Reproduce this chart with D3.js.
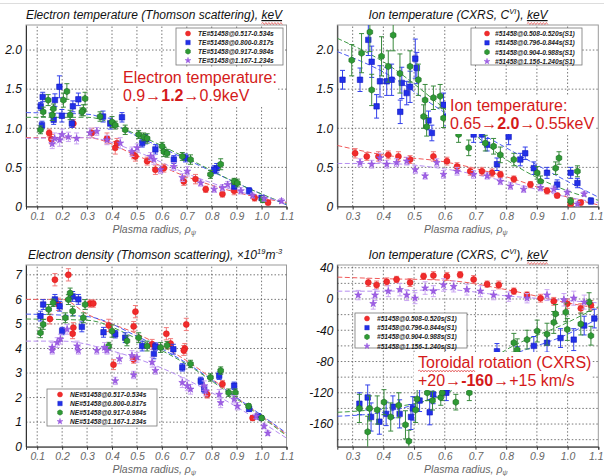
<!DOCTYPE html>
<html><head><meta charset="utf-8">
<script src="https://cdn.jsdelivr.net/npm/d3@7"></script>
<style>body{margin:0;background:#fff}svg{display:block;font-family:Arial,"Liberation Sans",sans-serif}</style>
</head><body><svg id="c" width="604" height="476"></svg>
<script>
// ---------- tick labels ----------
const leftXTicks = [0.1,0.2,0.3,0.4,0.5,0.6,0.7,0.8,0.9,1.0,1.1];
const leftXLabels = ["0.1","0.2","0.3","0.4","0.5","0.6","0.7","0.8","0.9","1.0","1.1"];
const rightXTicks = [0.3,0.4,0.5,0.6,0.7,0.8,0.9,1.0,1.1];
const rightXLabels = ["0.3","0.4","0.5","0.6","0.7","0.8","0.9","1.0","1.1"];
const tempYTicks = [0,0.5,1.0,1.5,2.0];
const tempYLabels = ["0","0.5","1.0","1.5","2.0"];
const neYTicks = [0,1,2,3,4,5,6,7];
const neYLabels = ["0","1","2","3","4","5","6","7"];
const vYTicks = [40,0,-40,-80,-120,-160];
const vYLabels = ["40","0","-40","-80","-120","-160"];
const vYGrid = [40,20,0,-20,-40,-60,-80,-100,-120,-140,-160,-180];

// ---------- legends ----------
const teLegend = ["TE#51458@0.517-0.534s","TE#51458@0.800-0.817s","TE#51458@0.917-0.984s","TE#51458@1.167-1.234s"];
const neLegend = ["NE#51458@0.517-0.534s","NE#51458@0.800-0.817s","NE#51458@0.917-0.984s","NE#51458@1.167-1.234s"];
const cxLegend = ["#51458@0.508-0.520s(S1)","#51458@0.796-0.844s(S1)","#51458@0.904-0.988s(S1)","#51458@1.156-1.240s(S1)"];

// ---------- Electron temperature [rho, keV, err] ----------
const teRed = [[0.148,0.94,0.05],[0.157,0.86,0.06],[0.245,1.06,0.05],[0.319,0.94,0.06],[0.38,0.87,0.07],[0.413,0.75,0.08],[0.42,0.81,0.06],[0.487,0.66,0.05],[0.494,0.64,0.06],[0.541,0.58,0.05],[0.574,0.47,0.06],[0.608,0.49,0.05],[0.688,0.32,0.05],[0.735,0.35,0.06],[0.776,0.22,0.04],[0.843,0.16,0.04],[0.89,0.2,0.05],[0.972,0.11,0.04],[1.026,0.05,0.03]];
const teBlue = [[0.122,1.40,0.06],[0.114,1.28,0.05],[0.189,1.53,0.14],[0.171,1.36,0.08],[0.243,1.28,0.07],[0.265,1.37,0.08],[0.364,1.15,0.07],[0.44,1.14,0.06],[0.119,1.04,0.05],[0.166,1.11,0.06],[0.199,1.16,0.08],[0.239,1.06,0.05],[0.393,1.06,0.07],[0.521,0.81,0.05],[0.535,0.86,0.06],[0.574,0.73,0.06],[0.648,0.60,0.05],[0.695,0.62,0.05],[0.82,0.49,0.06],[0.81,0.47,0.05],[0.89,0.26,0.04],[0.95,0.20,0.04],[1.0,0.11,0.03]];
const teGreen = [[0.144,1.36,0.07],[0.165,1.25,0.06],[0.219,1.47,0.10],[0.205,1.36,0.09],[0.292,1.38,0.08],[0.285,1.23,0.07],[0.124,1.21,0.06],[0.113,0.98,0.05],[0.16,1.17,0.07],[0.232,1.17,0.06],[0.279,1.21,0.05],[0.352,1.15,0.06],[0.40,1.08,0.07],[0.413,1.04,0.05],[0.453,0.98,0.06],[0.507,0.92,0.05],[0.527,0.89,0.05],[0.541,0.87,0.06],[0.601,0.77,0.05],[0.608,0.70,0.06],[0.621,0.68,0.05],[0.682,0.64,0.05],[0.715,0.60,0.06],[0.795,0.41,0.05],[0.836,0.54,0.07],[0.89,0.32,0.04],[0.903,0.30,0.05],[1.004,0.09,0.04]];
const tePurple = [[0.16,0.80,0.06],[0.17,0.87,0.07],[0.19,0.85,0.08],[0.2,0.92,0.07],[0.225,0.89,0.06],[0.258,0.87,0.07],[0.312,0.94,0.06],[0.339,0.96,0.05],[0.38,0.85,0.06],[0.433,0.81,0.07],[0.48,0.70,0.06],[0.501,0.75,0.05],[0.555,0.64,0.05],[0.568,0.60,0.06],[0.595,0.47,0.05],[0.648,0.51,0.05],[0.682,0.37,0.05],[0.702,0.45,0.06],[0.756,0.30,0.04],[0.81,0.22,0.04],[0.843,0.24,0.04],[0.864,0.28,0.04],[0.917,0.20,0.04],[0.964,0.14,0.03],[1.01,0.10,0.03],[1.08,0.07,0.03]];
const teFitRed = [[0.055,0.88],[0.3,0.88],[0.5,0.65],[0.7,0.38],[0.9,0.18],[1.1,0.05]];
const teFitBlue = [[0.055,1.2],[0.3,1.18],[0.5,0.9],[0.7,0.6],[0.9,0.3],[1.1,0.02]];
const teFitGreen = [[0.055,1.14],[0.3,1.14],[0.5,0.92],[0.7,0.62],[0.9,0.3],[1.1,0.03]];
const teFitPurple = [[0.055,0.87],[0.3,0.88],[0.5,0.7],[0.7,0.42],[0.9,0.2],[1.1,0.06]];

// ---------- Electron density [rho, 1e19 m^-3, err] ----------
const neRed = [[0.171,6.8,0.25],[0.225,7.0,0.25],[0.151,5.2,0.2],[0.185,5.8,0.25],[0.245,4.85,0.2],[0.242,4.6,0.2],[0.312,5.83,0.15],[0.325,5.83,0.15],[0.387,4.94,0.25],[0.487,4.9,0.2],[0.494,5.5,0.25],[0.561,4.17,0.2],[0.618,4.6,0.25],[0.635,4.2,0.2],[0.698,4.98,0.25],[0.692,4.0,0.2],[0.406,3.34,0.2],[0.487,3.55,0.15],[0.688,3.92,0.2],[0.782,2.13,0.15],[0.843,2.55,0.15],[0.964,1.17,0.1]];
const neBlue = [[0.113,5.32,0.2],[0.124,5.79,0.2],[0.171,6.0,0.2],[0.19,5.72,0.2],[0.242,6.12,0.2],[0.265,6.0,0.2],[0.2,4.71,0.15],[0.279,4.88,0.2],[0.366,4.66,0.2],[0.413,4.58,0.15],[0.453,4.44,0.2],[0.521,4.1,0.2],[0.574,4.08,0.15],[0.646,3.97,0.2],[0.568,3.78,0.2],[0.682,3.23,0.15],[0.756,2.68,0.15],[0.77,2.34,0.15],[0.83,2.89,0.15],[0.89,2.48,0.15],[0.95,1.54,0.1],[0.985,1.24,0.1]];
const neGreen = [[0.113,4.64,0.2],[0.124,4.98,0.2],[0.146,5.59,0.2],[0.164,5.86,0.15],[0.213,5.25,0.2],[0.225,5.99,0.2],[0.232,6.26,0.2],[0.242,5.52,0.2],[0.285,5.25,0.2],[0.292,5.79,0.2],[0.387,4.1,0.15],[0.4,4.71,0.25],[0.46,4.31,0.2],[0.507,4.44,0.2],[0.541,4.1,0.2],[0.595,4.04,0.2],[0.621,4.13,0.15],[0.715,3.37,0.15],[0.795,2.82,0.15],[0.836,3.1,0.15],[0.868,2.2,0.15],[0.895,2.2,0.15],[0.948,1.65,0.1],[1.0,1.17,0.1]];
const nePurple = [[0.16,4.04,0.2],[0.18,4.24,0.2],[0.193,4.38,0.2],[0.22,4.78,0.2],[0.26,4.1,0.2],[0.37,4.04,0.2],[0.16,3.92,0.15],[0.265,3.92,0.15],[0.339,3.92,0.15],[0.38,3.92,0.15],[0.413,2.68,0.15],[0.43,3.58,0.2],[0.487,2.92,0.15],[0.48,3.71,0.2],[0.5,3.64,0.2],[0.561,3.44,0.2],[0.574,3.1,0.15],[0.682,2.61,0.2],[0.702,2.48,0.2],[0.715,2.34,0.2],[0.77,2.48,0.2],[0.776,2.27,0.2],[0.83,2.13,0.2],[0.836,1.79,0.2],[0.89,1.93,0.15],[0.903,1.65,0.15],[0.978,1.24,0.1],[1.01,0.83,0.1],[1.025,0.55,0.1]];
const neFitRed = [[0.055,6.0],[0.2,6.0],[0.3,5.4],[0.5,4.6],[0.7,3.5],[0.9,2.0],[1.1,0.5]];
const neFitBlue = [[0.055,5.4],[0.3,5.3],[0.5,4.5],[0.7,3.4],[0.9,2.0],[1.1,0.55]];
const neFitGreen = [[0.055,5.2],[0.3,5.15],[0.5,4.4],[0.7,3.35],[0.9,1.95],[1.1,0.45]];
const neFitPurple = [[0.055,4.3],[0.2,4.3],[0.4,3.9],[0.6,3.2],[0.8,2.2],[1.0,1.0],[1.1,0.35]];

// ---------- Ion temperature [rho, keV, err] ----------
const tiRed = [[0.308,0.68,0.06],[0.346,0.64,0.05],[0.384,0.64,0.06],[0.416,0.66,0.05],[0.449,0.64,0.06],[0.487,0.6,0.05],[0.563,0.64,0.06],[0.607,0.58,0.05],[0.64,0.51,0.05],[0.683,0.45,0.05],[0.721,0.45,0.05],[0.754,0.43,0.05],[0.781,0.41,0.04],[0.825,0.35,0.04],[0.879,0.28,0.04],[0.933,0.2,0.04],[0.966,0.14,0.03],[1.01,0.03,0.03],[1.043,0.05,0.03]];
const tiBlue = [[0.267,1.62,0.12],[0.324,1.62,0.15],[0.351,2.13,0.2],[0.362,1.85,0.2],[0.389,1.6,0.2],[0.411,1.6,0.18],[0.378,1.28,0.15],[0.427,1.62,0.2],[0.46,1.58,0.2],[0.476,1.45,0.15],[0.487,1.53,0.2],[0.504,1.89,0.25],[0.509,1.77,0.2],[0.596,1.3,0.15],[0.455,1.21,0.15],[0.558,0.94,0.1],[0.547,1.1,0.12],[0.607,1.15,0.12],[0.694,0.92,0.1],[0.721,0.92,0.1],[0.738,0.79,0.08],[0.77,0.54,0.08],[0.808,0.89,0.1],[0.846,0.6,0.08],[0.862,0.68,0.08],[0.89,0.49,0.08],[0.933,0.43,0.07],[0.966,0.28,0.06],[1.01,0.43,0.07],[1.032,0.3,0.06],[1.076,0.07,0.04]];
const tiGreen = [[0.297,1.87,0.2],[0.329,1.96,0.25],[0.356,2.23,0.25],[0.394,1.92,0.25],[0.416,1.79,0.2],[0.454,1.7,0.25],[0.487,1.79,0.2],[0.514,1.62,0.2],[0.536,1.36,0.2],[0.563,1.39,0.15],[0.585,1.41,0.15],[0.362,1.49,0.2],[0.432,2.19,0.2],[0.531,1.15,0.15],[0.541,1.02,0.12],[0.596,1.13,0.12],[0.645,0.92,0.1],[0.678,0.75,0.1],[0.732,0.81,0.1],[0.759,0.77,0.1],[0.781,0.66,0.1],[0.825,0.6,0.08],[0.901,0.43,0.08],[0.912,0.32,0.07],[0.972,0.62,0.08],[0.961,0.49,0.08],[1.01,0.07,0.04],[1.032,0.45,0.07]];
const tiPurple = [[0.324,0.56,0.05],[0.362,0.54,0.05],[0.389,0.62,0.06],[0.411,0.54,0.05],[0.443,0.56,0.05],[0.476,0.58,0.05],[0.504,0.47,0.05],[0.536,0.39,0.04],[0.574,0.56,0.05],[0.596,0.41,0.05],[0.64,0.45,0.05],[0.694,0.41,0.05],[0.738,0.39,0.04],[0.781,0.32,0.04],[0.814,0.26,0.04],[0.857,0.22,0.04],[0.912,0.24,0.04],[0.955,0.22,0.04],[0.999,0.18,0.03],[1.032,0.03,0.03],[1.054,0.16,0.03]];
const tiFitRed = [[0.25,0.78],[0.4,0.66],[0.6,0.57],[0.8,0.38],[1.0,0.12],[1.1,0.02]];
const tiFitBlue = [[0.25,1.98],[0.4,1.72],[0.6,1.2],[0.8,0.75],[1.0,0.32],[1.1,0.12]];
const tiFitGreen = [[0.25,2.15],[0.4,1.85],[0.6,1.25],[0.8,0.6],[1.0,0.2],[1.1,0.08]];
const tiFitPurple = [[0.25,0.55],[0.4,0.55],[0.6,0.48],[0.8,0.32],[1.0,0.12],[1.1,0.05]];

// ---------- Toroidal rotation [rho, km/s, err] ----------
const vRed = [[0.351,21,5],[0.378,18,5],[0.411,22,5],[0.443,25,4],[0.487,21,5],[0.531,29,4],[0.563,30,5],[0.607,29,5],[0.65,31,4],[0.694,25,5],[0.738,19,4],[0.776,18,5],[0.825,10,4],[0.868,5,4],[0.912,1,5],[0.955,-3,5],[0.999,-6,6],[1.043,-12,6],[1.076,-8,6]];
const vPurple = [[0.318,5,6],[0.367,-6,7],[0.373,5,7],[0.416,10,7],[0.454,12,8],[0.476,5,7],[0.503,1,7],[0.536,14,8],[0.563,10,7],[0.596,18,8],[0.629,16,7],[0.672,12,7],[0.716,10,7],[0.759,5,6],[0.808,3,6],[0.868,1,6],[0.933,5,7],[0.988,-1,8],[1.02,1,9],[1.054,-4,9]];
const vBlue = [[0.322,-134,14],[0.349,-126,16],[0.36,-151,18],[0.387,-157,16],[0.409,-147,15],[0.431,-138,14],[0.453,-147,18],[0.49,-151,16],[0.496,-140,15],[0.518,-130,14],[0.551,-145,16],[0.562,-122,12],[0.605,-120,10],[0.77,-67,10],[0.836,-71,10],[0.89,-60,12],[0.933,-56,12],[0.977,-50,12],[1.02,-52,14],[1.054,-34,12],[1.087,-25,12]];
const vGreen = [[0.322,-140,18],[0.349,-170,20],[0.355,-140,16],[0.38,-142,18],[0.402,-132,16],[0.424,-151,18],[0.45,-136,16],[0.472,-161,18],[0.483,-182,14],[0.505,-142,16],[0.51,-128,14],[0.543,-120,10],[0.56,-130,12],[0.587,-126,10],[0.592,-120,10],[0.636,-132,10],[0.68,-120,10],[0.825,-56,12],[0.836,-65,14],[0.868,-52,12],[0.901,-41,14],[0.933,-45,14],[0.955,-30,14],[0.961,-19,12],[0.994,-17,12],[0.999,-39,14],[1.043,-32,14],[1.07,-4,12],[1.076,-47,12]];
const vFitRed = [[0.25,28],[0.4,26],[0.6,24],[0.8,12],[1.0,-5],[1.1,-12]];
const vFitPurple = [[0.25,10],[0.4,10],[0.6,12],[0.8,4],[1.0,-2],[1.1,-5]];
const vFitBlue = [[0.25,-150],[0.4,-145],[0.6,-120],[0.8,-75],[1.0,-45],[1.1,-25]];
const vFitGreen = [[0.25,-145],[0.4,-140],[0.6,-122],[0.8,-65],[1.0,-30],[1.1,-10]];

// ---------- styles ----------
const hexagon = {draw(ctx,size){const r=Math.sqrt(size/2.598);for(let i=0;i<6;i++){const a=Math.PI/3*i+Math.PI/6;const px=r*Math.cos(a),py=r*Math.sin(a);i?ctx.lineTo(px,py):ctx.moveTo(px,py);}ctx.closePath();}};
const STY = {
  red:   {fill:"#f02c2c", stroke:"#e01818", err:"#f07a7a", fit:"#f05a5a", sym:d3.symbolCircle, size:28, lsize:20},
  blue:  {fill:"#2230e8", stroke:"#1018c0", err:"#3340ea", fit:"#4a5af2", sym:d3.symbolSquare, size:30, lsize:20},
  green: {fill:"#2f9a35", stroke:"#1d6a22", err:"#3a8a3e", fit:"#3f9a45", sym:hexagon, size:28, lsize:20},
  purple:{fill:"#a060e6", stroke:"#8a48d8", err:"#caa6f2", fit:"#b58ef0", sym:d3.symbolStar, size:15, lsize:11}
};
const ORDER = ["red","blue","green","purple"];

const svg = d3.select("#c");
svg.append("line").attr("x1",0).attr("x2",604).attr("y1",3.5).attr("y2",3.5).attr("stroke","#ddd");

const panels = [
  {xr:[26,286.5], yr:[206.5,25], xd:[0.055,1.1], yd:[0,2.32], xt:leftXTicks, xl:leftXLabels, yt:tempYTicks, yl:tempYLabels, yg:tempYTicks.slice(1),
   data:{red:teRed,blue:teBlue,green:teGreen,purple:tePurple}, fits:{red:teFitRed,blue:teFitBlue,green:teFitGreen,purple:teFitPurple},
   legend:teLegend, lg:{x:176,y:28,w:107,h:37,mx:188,tx:198,row:9}, xlabY:233},
  {xr:[337.3,598.3], yr:[206.5,25], xd:[0.25,1.1], yd:[0,2.32], xt:rightXTicks, xl:rightXLabels, yt:tempYTicks, yl:tempYLabels, yg:tempYTicks.slice(1),
   data:{red:tiRed,blue:tiBlue,green:tiGreen,purple:tiPurple}, fits:{red:tiFitRed,blue:tiFitBlue,green:tiFitGreen,purple:tiFitPurple},
   legend:cxLegend, lg:{x:471,y:28,w:111,h:37,mx:487,tx:495,row:9.3}, xlabY:233},
  {xr:[26,286.5], yr:[446.7,265], xd:[0.055,1.1], yd:[0,7.4], xt:leftXTicks, xl:leftXLabels, yt:neYTicks, yl:neYLabels, yg:neYTicks.slice(1),
   data:{red:neRed,blue:neBlue,green:neGreen,purple:nePurple}, fits:{red:neFitRed,blue:neFitBlue,green:neFitGreen,purple:neFitPurple},
   legend:neLegend, lg:{x:47,y:389,w:110,h:37,mx:60,tx:70,row:9}, xlabY:472.5},
  {xr:[337.3,598.3], yr:[446.7,265], xd:[0.25,1.1], yd:[-189,43.5], xt:rightXTicks, xl:rightXLabels, yt:vYTicks, yl:vYLabels, yg:vYGrid,
   data:{red:vRed,blue:vBlue,green:vGreen,purple:vPurple}, fits:{red:vFitRed,blue:vFitBlue,green:vFitGreen,purple:vFitPurple},
   legend:cxLegend, lg:{x:355,y:313,w:112,h:35,mx:367,tx:377,row:9.2}, xlabY:472.5}
];

panels.forEach((p,pi)=>{
  const x = d3.scaleLinear().domain(p.xd).range(p.xr);
  const y = d3.scaleLinear().domain(p.yd).range(p.yr);
  const g = svg.append("g");
  const clipId = "clip"+pi;
  svg.append("clipPath").attr("id",clipId).append("rect")
    .attr("x",p.xr[0]).attr("y",p.yr[1]).attr("width",p.xr[1]-p.xr[0]).attr("height",p.yr[0]-p.yr[1]);
  g.append("rect").attr("x",p.xr[0]).attr("y",p.yr[1]).attr("width",p.xr[1]-p.xr[0]).attr("height",p.yr[0]-p.yr[1])
    .attr("fill","#fff").attr("stroke","#9a9a9a").attr("stroke-width",1);
  const grid = g.append("g").attr("stroke","#555").attr("stroke-width",0.8).attr("stroke-dasharray","1.5,2");
  p.xt.forEach(t=>{ if (x(t) < p.xr[1]-1) grid.append("line").attr("x1",x(t)).attr("x2",x(t)).attr("y1",p.yr[0]).attr("y2",p.yr[1]); });
  p.yg.forEach(t=>{ grid.append("line").attr("x1",p.xr[0]).attr("x2",p.xr[1]).attr("y1",y(t)).attr("y2",y(t)); });
  const xa = g.append("g").attr("transform",`translate(0,${p.yr[0]})`)
    .call(d3.axisBottom(x).tickValues(p.xt).tickFormat((d,i)=>p.xl[i]).tickSize(3).tickPadding(3));
  xa.select(".domain").attr("stroke","#333");
  xa.selectAll("line").attr("stroke","#333");
  xa.selectAll("text").attr("font-size",10.5).attr("font-style","italic").attr("fill","#666").attr("font-family","Arial");
  xa.selectAll(".tick text").filter(function(){ return this.getBoundingClientRect().right > 603; })
    .attr("text-anchor","end").attr("x",603 - (p.xr[1]));
  const ya = g.append("g").attr("transform",`translate(${p.xr[0]},0)`)
    .call(d3.axisLeft(y).tickValues(p.yt).tickFormat((d,i)=>p.yl[i]).tickSize(0).tickPadding(4));
  ya.select(".domain").attr("stroke","#333");
  ya.selectAll("text").attr("font-size",12).attr("font-style","italic").attr("fill","#111").attr("font-family","Arial");

  const plot = g.append("g").attr("clip-path",`url(#${clipId})`);
  const line = d3.line().x(d=>x(d[0])).y(d=>y(d[1])).curve(d3.curveMonotoneX);
  ORDER.forEach(k=>{
    plot.append("path").datum(p.fits[k]).attr("d",line).attr("fill","none")
      .attr("stroke",STY[k].fit).attr("stroke-width",1).attr("stroke-dasharray","5,2.5");
  });
  ORDER.forEach(k=>{
    const s = STY[k];
    const eb = plot.append("g").attr("stroke",s.err).attr("stroke-width",1);
    p.data[k].forEach(d=>{
      const cx = x(d[0]), y1 = y(d[1]-d[2]), y2 = y(d[1]+d[2]);
      eb.append("line").attr("x1",cx).attr("x2",cx).attr("y1",y1).attr("y2",y2);
      eb.append("line").attr("x1",cx-2.5).attr("x2",cx+2.5).attr("y1",y1).attr("y2",y1);
      eb.append("line").attr("x1",cx-2.5).attr("x2",cx+2.5).attr("y1",y2).attr("y2",y2);
    });
    plot.append("g").selectAll("path").data(p.data[k]).join("path")
      .attr("transform",d=>`translate(${x(d[0])},${y(d[1])})`)
      .attr("d",d3.symbol().type(s.sym).size(s.size))
      .attr("fill",s.fill).attr("stroke",s.stroke).attr("stroke-width",0.6);
  });
  const L = p.lg;
  const lg = g.append("g");
  lg.append("rect").attr("x",L.x).attr("y",L.y).attr("width",L.w).attr("height",L.h)
    .attr("fill","#fff").attr("stroke","#777").attr("stroke-width",0.8);
  ORDER.forEach((k,i)=>{
    const cy = L.y + 5.5 + i*L.row;
    lg.append("path").attr("transform",`translate(${L.mx},${cy})`)
      .attr("d",d3.symbol().type(STY[k].sym).size(STY[k].lsize)).attr("fill",STY[k].fill).attr("stroke",STY[k].stroke).attr("stroke-width",0.4);
    lg.append("text").attr("x",L.tx).attr("y",cy+2.4).text(p.legend[i])
      .attr("font-size",6.6).attr("font-style","italic").attr("font-weight","bold").attr("fill","#222");
  });
  const xl = g.append("text").attr("x",(p.xr[0]+p.xr[1])/2 - 2).attr("y",p.xlabY).attr("text-anchor","middle")
    .attr("font-size",10.5).attr("font-style","italic").attr("fill","#666");
  xl.append("tspan").text("Plasma radius, ρ");
  xl.append("tspan").attr("font-size",7).attr("dy",2).text("ψ");
});

// ---------- titles ----------
function squiggle(x1,x2,yy){
  let d=`M${x1},${yy}`;
  for(let xx=x1, up=true; xx<x2; xx+=1.5, up=!up) d+=`L${xx+1.5},${yy+(up?-1:1)}`;
  svg.append("path").attr("d",d).attr("fill","none").attr("stroke","#e04040").attr("stroke-width",0.7);
}
function title(cx, yy, parts){
  const t = svg.append("text").attr("x",cx).attr("y",yy).attr("text-anchor","middle")
    .attr("font-size",12).attr("font-style","italic").attr("fill","#111");
  let uIdx = null, uLen = 0, pos = 0;
  parts.forEach(pp=>{
    const ts = t.append("tspan").text(pp.t);
    if (pp.sup){ ts.attr("font-size",7.5).attr("dy",-5); }
    if (pp.after){ ts.attr("dy",5); }
    if (pp.u){ ts.attr("text-decoration","underline"); uIdx = pos; uLen = pp.t.length; }
    pos += pp.t.length;
  });
  if (uIdx !== null){
    const n = t.node();
    const a = n.getStartPositionOfChar(uIdx).x, b = n.getEndPositionOfChar(uIdx+uLen-1).x;
    squiggle(a, b, yy+4.5);
  }
}
title(154,19,[{t:"Electron temperature (Thomson scattering), "},{t:"keV",u:true}]);
title(458,19,[{t:"Ion temperature (CXRS, C"},{t:"VI",sup:true},{t:"), ",after:true},{t:"keV",u:true}]);
title(155,259,[{t:"Electron density (Thomson scattering), ×10"},{t:"19",sup:true},{t:"m",after:true},{t:"-3",sup:true}]);
title(458,259,[{t:"Ion temperature (CXRS, C"},{t:"VI",sup:true},{t:"), ",after:true},{t:"keV",u:true}]);

// ---------- annotations ----------
function annot(x0, y1, y2, line1, parts, box, u){
  svg.append("rect").attr("x",box[0]).attr("y",box[1]).attr("width",box[2]).attr("height",box[3]).attr("fill","#fff");
  const t1 = svg.append("text").attr("x",x0).attr("y",y1).attr("font-size",16).attr("fill","#d41a1a").text(line1);
  if (u){ const n=t1.node(); squiggle(n.getStartPositionOfChar(0).x, n.getEndPositionOfChar(u-1).x, y1+3); }
  const t2 = svg.append("text").attr("x",x0).attr("y",y2).attr("font-size",16).attr("fill","#d41a1a");
  parts.forEach(pp=>{ const ts=t2.append("tspan").text(pp.t); if(pp.b) ts.attr("font-weight","bold"); });
}
annot(123,83,101,"Electron temperature:",[{t:"0.9→"},{t:"1.2",b:true},{t:"→0.9keV"}],[120,68,158,38]);
annot(450,111,129,"Ion temperature:",[{t:"0.65→"},{t:"2.0",b:true},{t:"→0.55keV"}],[446,95,150,39]);
annot(418,368,386,"Toroidal rotation (CXRS)",[{t:"+20→"},{t:"-160",b:true},{t:"→+15 km/s"}],[414,352,178,38],8);
</script></body></html>
